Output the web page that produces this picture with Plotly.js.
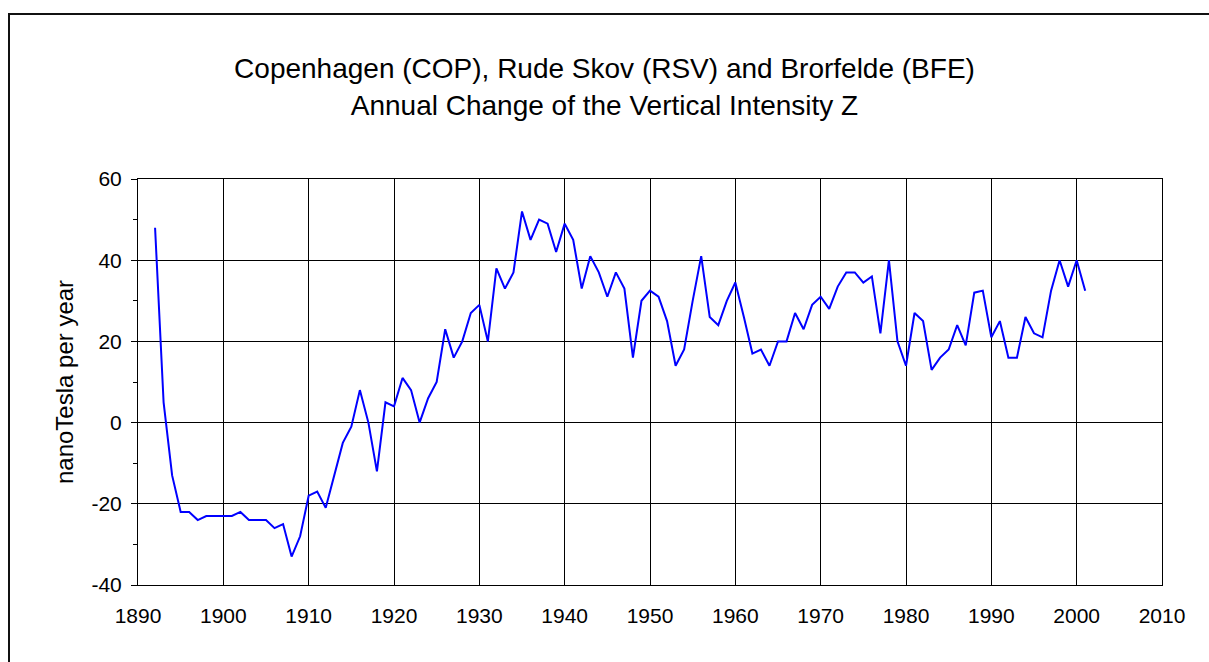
<!DOCTYPE html>
<html>
<head>
<meta charset="utf-8">
<script src="https://cdn.plot.ly/plotly-3.0.1.min.js"></script>
<style>
html,body{margin:0;padding:0;background:#fff;}
#chart{width:1209px;height:662px;}
</style>
</head>
<body>
<div id="chart"></div>
<script>
var years = [];
for (var y = 1892; y <= 2001; y++) years.push(y);
var annualChangeZ = [
  48, 5, -13, -22, -22, -24, -23, -23, -23, -23,        // 1892-1901
  -22, -24, -24, -24, -26, -25, -33, -28, -18, -17,     // 1902-1911
  -21, -13, -5, -1, 8, 0, -12, 5, 4, 11,                // 1912-1921
  8, 0, 6, 10, 23, 16, 20, 27, 29, 20,                  // 1922-1931
  38, 33, 37, 52, 45, 50, 49, 42, 49, 45,               // 1932-1941
  33, 41, 37, 31, 37, 33, 16, 30, 32.5, 31,             // 1942-1951
  25, 14, 18, 30, 41, 26, 24, 30, 34.5, 26,             // 1952-1961
  17, 18, 14, 20, 20, 27, 23, 29, 31, 28,               // 1962-1971
  33.5, 37, 37, 34.5, 36, 22, 40, 20, 14, 27,           // 1972-1981
  25, 13, 16, 18, 24, 19, 32, 32.5, 21, 25,             // 1982-1991
  16, 16, 26, 22, 21, 32.5, 40, 33.5, 40, 32.5          // 1992-2001
];
var titleLines = ["Copenhagen (COP), Rude Skov (RSV) and Brorfelde (BFE)", "Annual Change of the Vertical Intensity Z"];
var yTitle = "nanoTesla per year";
var xTickVals = [1890, 1900, 1910, 1920, 1930, 1940, 1950, 1960, 1970, 1980, 1990, 2000, 2010];
var yTickVals = [-40, -20, 0, 20, 40, 60];
var yTickText = ["-40", "-20", "0", "20", "40", "60"];

var fontFam = "Liberation Sans, Arial, sans-serif";
var trace = {
  x: years, y: annualChangeZ, type: 'scatter', mode: 'lines',
  line: {color: '#0000FF', width: 2}, hoverinfo: 'x+y'
};
var layout = {
  width: 1209, height: 662,
  margin: {l: 138, r: 47, t: 179, b: 77},
  paper_bgcolor: '#fff', plot_bgcolor: '#fff',
  showlegend: false,
  font: {family: fontFam, color: '#000', size: 20},
  title: {
    text: titleLines.join('<br>'),
    font: {family: fontFam, size: 28, color: '#000'},
    x: 0.5, xref: 'container', xanchor: 'center',
    y: 0.882, yref: 'container', yanchor: 'middle'
  },
  xaxis: {
    range: [1890, 2010], tickmode: 'array', tickvals: xTickVals,
    ticks: '', showgrid: true, gridcolor: '#000', gridwidth: 1,
    showline: true, linecolor: '#000', linewidth: 1, mirror: true,
    zeroline: false, tickfont: {size: 21, family: fontFam, color: '#000'},
    ticklabelstandoff: 12
  },
  yaxis: {
    range: [-40, 60], tickmode: 'array', tickvals: yTickVals, ticktext: yTickText,
    ticks: 'outside', ticklen: 6, tickwidth: 1, tickcolor: '#000',
    minor: {dtick: 10, ticks: 'outside', ticklen: 4, tickcolor: '#000', showgrid: false},
    showgrid: true, gridcolor: '#000', gridwidth: 1,
    showline: true, linecolor: '#000', linewidth: 1, mirror: true,
    zeroline: false, tickfont: {size: 21, family: fontFam, color: '#000'},
    ticklabelstandoff: 5,
    title: {text: yTitle, font: {size: 24, family: fontFam, color: '#000'}, standoff: 11}
  },
  shapes: [{
    type: 'rect', xref: 'paper', yref: 'paper',
    x0: (9 - 138) / 1024, x1: (1230 - 138) / 1024,
    y0: (585 - 700) / 406, y1: (585 - 14) / 406,
    line: {color: '#111', width: 2}, fillcolor: 'rgba(0,0,0,0)', layer: 'above'
  }]
};
Plotly.newPlot('chart', [trace], layout, {displayModeBar: false, staticPlot: true});
</script>
</body>
</html>
